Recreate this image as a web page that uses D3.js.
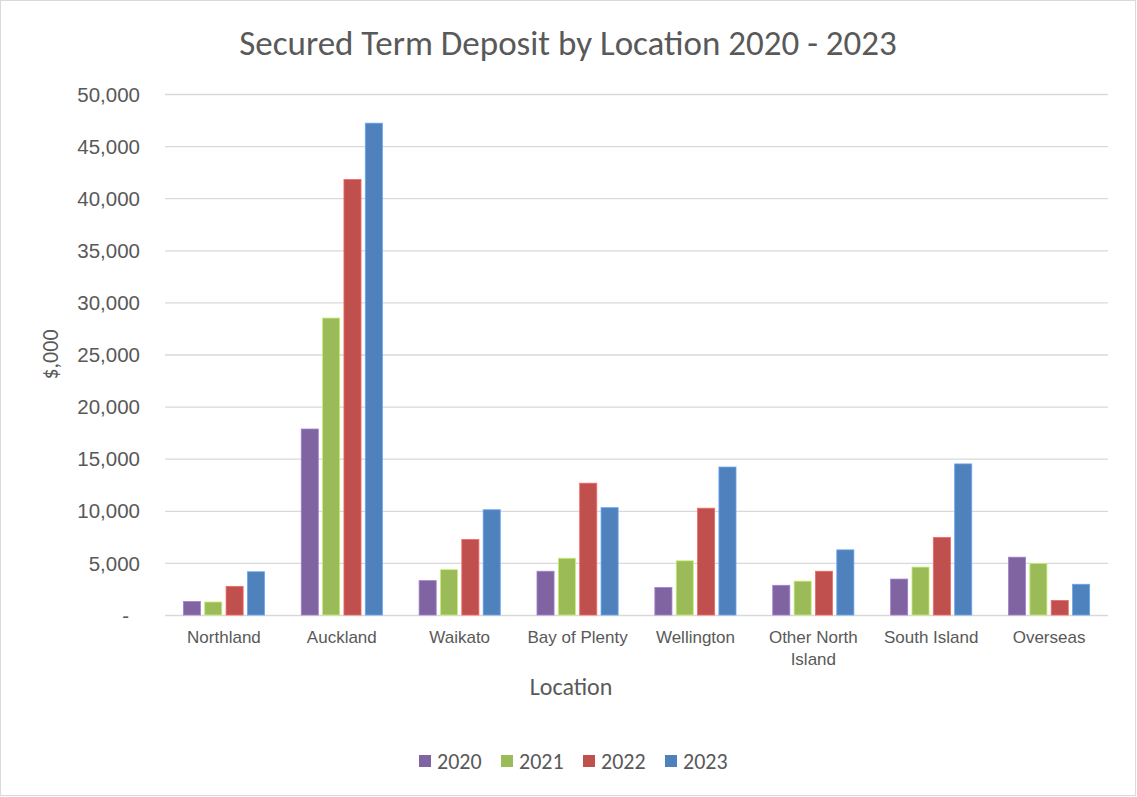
<!DOCTYPE html>
<html><head><meta charset="utf-8">
<script src="https://cdn.jsdelivr.net/npm/d3@7"></script>
<style>
html,body{margin:0;padding:0;background:#fff;}
svg{display:block;font-family:Carlito, Calibri, Lato, "Open Sans", sans-serif;}
</style></head>
<body>
<svg id="chart" width="1137" height="797"></svg>
<script>
const categories = ["Northland","Auckland","Waikato","Bay of Plenty","Wellington","Other North Island","South Island","Overseas"];
const seriesNames = ["2020","2021","2022","2023"];
const v2020 = [1300, 17850, 3300, 4200, 2650, 2850, 3450, 5550];
const v2021 = [1250, 28500, 4350, 5450, 5200, 3250, 4600, 4950];
const v2022 = [2750, 41800, 7250, 12650, 10250, 4200, 7450, 1400];
const v2023 = [4150, 47200, 10100, 10300, 14200, 6250, 14500, 2950];
const seriesValues = [v2020, v2021, v2022, v2023];
const colors = ["#8064A2","#9BBB59","#C0504D","#4F81BD"];
const yTicks = [0,5000,10000,15000,20000,25000,30000,35000,40000,45000,50000];
const titleText = "Secured Term Deposit by Location 2020 - 2023";
const xTitle = "Location";
const yTitle = "$,000";

const svg = d3.select("#chart");
const W = 1137, H = 797;
const m = {left:165, right:1108, top:94, bottom:615};
const textColor = "#595959";

svg.append("rect").attr("x",0.5).attr("y",0.5).attr("width",W-2).attr("height",H-2)
  .attr("fill","#fff").attr("stroke","#d9d9d9").attr("stroke-width",1);

const y = d3.scaleLinear().domain([0,50000]).range([m.bottom, m.top]);
const x0 = d3.scaleBand().domain(categories).range([m.left, m.right]).padding(0);
const x1 = d3.scaleBand().domain(seriesNames).range([0, x0.bandwidth()]).paddingInner(0.2).paddingOuter(0.86);

// gridlines
const yAxis = d3.axisLeft(y).tickValues(yTicks).tickSize(-(m.right-m.left)).tickPadding(25)
  .tickFormat(d => d === 0 ? "-" : d3.format(",")(d));
const gy = svg.append("g").attr("transform",`translate(${m.left},0)`).call(yAxis);
gy.select(".domain").remove();
gy.selectAll(".tick line").attr("stroke","#d9d9d9").attr("stroke-width",1.3);
gy.selectAll(".tick text").attr("fill",textColor).attr("font-size","20.5px")
  .attr("x", -25).attr("dy","0.35em");
gy.selectAll(".tick text").filter(d => d===0).attr("x",-36);

// bars
const groups = svg.append("g").selectAll("g").data(categories).join("g")
  .attr("transform", d => `translate(${x0(d)},0)`);
groups.selectAll("rect").data((c,i) => seriesNames.map((s,j) => ({s, v: seriesValues[j][i], j})))
  .join("rect")
  .attr("x", d => x1(d.s))
  .attr("width", x1.bandwidth())
  .attr("y", d => y(d.v))
  .attr("height", d => y(0) - y(d.v))
  .attr("fill", d => colors[d.j])
  .attr("stroke", d => d3.color(colors[d.j]).brighter(0.7))
  .attr("stroke-width", 0.8);

// x axis labels
const xAxis = d3.axisBottom(x0).tickSize(0).tickPadding(16);
const gx = svg.append("g").attr("transform",`translate(0,${m.bottom})`).call(xAxis);
gx.select(".domain").remove();
gx.selectAll(".tick text").attr("fill",textColor).attr("font-size","17px")
  .call(wrap, x0.bandwidth()-6);

function wrap(texts, width){
  texts.each(function(){
    const t = d3.select(this);
    const words = t.text().split(/\s+/);
    const yy = t.attr("y"), dy = parseFloat(t.attr("dy")) || 0;
    t.text(null);
    let line = [], lineNo = 0;
    let tspan = t.append("tspan").attr("x",0).attr("y",yy).attr("dy",dy+"em");
    for (const w of words){
      line.push(w);
      tspan.text(line.join(" "));
      if (tspan.node().getComputedTextLength() > width && line.length > 1){
        line.pop(); tspan.text(line.join(" "));
        line = [w];
        tspan = t.append("tspan").attr("x",0).attr("y",yy).attr("dy",(++lineNo*1.3+dy)+"em").text(w);
      }
    }
  });
}

// titles
svg.append("text").attr("x",568).attr("y",55).attr("text-anchor","middle")
  .attr("fill",textColor).attr("font-size","35px").attr("font-weight",300).text(titleText);
svg.append("text").attr("x",571).attr("y",695).attr("text-anchor","middle")
  .attr("fill",textColor).attr("font-size","24px").text(xTitle);
svg.append("text").attr("transform",`translate(58,${(m.top+m.bottom)/2}) rotate(-90)`)
  .attr("text-anchor","middle").attr("fill",textColor).attr("font-size","22px").text(yTitle);

// legend
const leg = svg.append("g");
seriesNames.forEach((s,i) => {
  const gx0 = 419 + i*82;
  leg.append("rect").attr("x",gx0).attr("y",755).attr("width",12).attr("height",12).attr("fill",colors[i]);
  leg.append("text").attr("x",gx0+18).attr("y",761).attr("dy","0.35em")
    .attr("fill",textColor).attr("font-size","22px").text(s);
});
</script>
</body></html>
